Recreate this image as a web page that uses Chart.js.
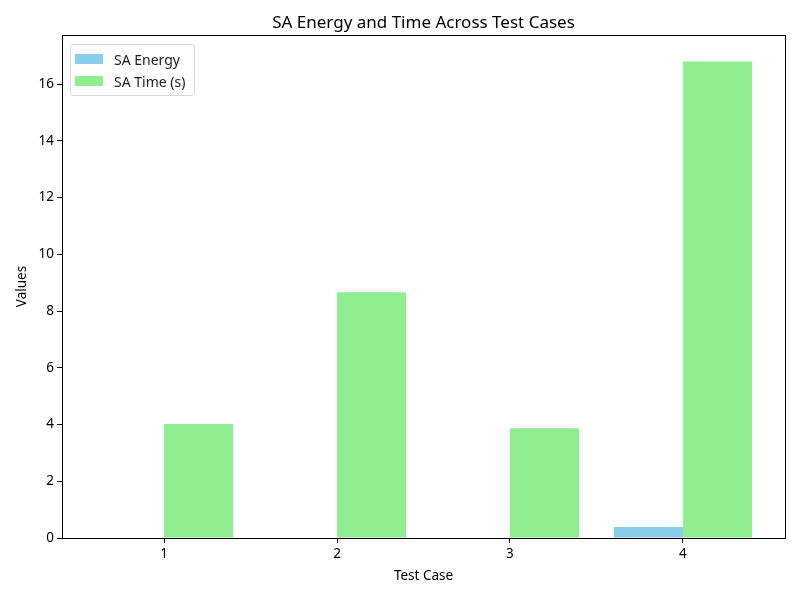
<!DOCTYPE html>
<html>
<head>
<meta charset="utf-8">
<script src="https://cdn.jsdelivr.net/npm/chart.js@4.4.1/dist/chart.umd.min.js"></script>
<style>
  body { margin: 0; background: #fff; }
  #wrap { position: relative; width: 800px; height: 600px; }
  #title {
    position: absolute; left: 62px; width: 723px; top: 10px; text-align: center;
    font-family: "Noto Sans", sans-serif; font-size: 17px; line-height: 24px; color: #000;
  }
  #legend {
    position: absolute; left: 70px; top: 44px;
    border: 1px solid #d9d9d9; border-radius: 3px; background: rgba(255,255,255,0.8);
    padding: 3px 9px 3px 4px; font-family: "Noto Sans", sans-serif; font-size: 14px; color: #222;
  }
  #legend div { display: flex; align-items: center; height: 22px; }
  #legend span.sw { display: inline-block; width: 28px; height: 10px; margin-right: 11px; }
</style>
</head>
<body>
<div id="wrap">
  <canvas id="chart" width="800" height="600"></canvas>
  <div id="title">SA Energy and Time Across Test Cases</div>
  <div id="legend"></div>
</div>
<script>
const testCases = [1, 2, 3, 4];
const saEnergy = [0, 0, 0, 0.39];
const saTime = [4.02, 8.66, 3.87, 16.8];
const yTicks = [0, 2, 4, 6, 8, 10, 12, 14, 16];

const FONT = '"Noto Sans", sans-serif';

const frame = {
  id: 'frame',
  afterDraw(chart) {
    const a = chart.chartArea, ctx = chart.ctx;
    ctx.save();
    ctx.strokeStyle = '#000';
    ctx.lineWidth = 1;
    ctx.strokeRect(a.left + 0.5, a.top + 0.5, a.right - a.left, a.bottom - a.top);
    ctx.restore();
  }
};

const ctx = document.getElementById('chart').getContext('2d');
const chart = new Chart(ctx, {
  type: 'bar',
  data: {
    datasets: [
      {
        label: 'SA Energy',
        data: testCases.map((x, i) => ({ x, y: saEnergy[i] })),
        backgroundColor: '#87CEEB',
        borderWidth: 0
      },
      {
        label: 'SA Time (s)',
        data: testCases.map((x, i) => ({ x, y: saTime[i] })),
        backgroundColor: '#90EE90',
        borderWidth: 0
      }
    ]
  },
  plugins: [frame],
  options: {
    responsive: false,
    animation: false,
    categoryPercentage: 0.8,
    barPercentage: 1.0,
    layout: { padding: { left: 0, right: 15, top: 35, bottom: 0 } },
    plugins: {
      legend: { display: false },
      tooltip: { enabled: false },
      title: { display: false }
    },
    scales: {
      x: {
        type: 'linear',
        offset: false,
        min: 0.41,
        max: 4.59,
        afterBuildTicks: s => { s.ticks = testCases.map(v => ({ value: v })); },
        afterFit: s => { s.height = 62; },
        grid: { display: true, offset: false, drawOnChartArea: false, drawTicks: true, tickLength: 5, color: '#000' },
        border: { display: false },
        ticks: { color: '#000', font: { family: FONT, size: 13.5 }, padding: 3 },
        title: {
          display: true, text: 'Test Case', color: '#000',
          font: { family: FONT, size: 13.5 }, padding: { top: 4, bottom: 16 }
        }
      },
      y: {
        min: 0,
        max: 17.73,
        afterBuildTicks: s => { s.ticks = yTicks.map(v => ({ value: v })); },
        afterFit: s => { s.width = 62; },
        grid: { display: true, drawOnChartArea: false, drawTicks: true, tickLength: 5, color: '#000' },
        border: { display: false },
        ticks: { color: '#000', font: { family: FONT, size: 13.5 }, padding: 3 },
        title: {
          display: true, text: 'Values', color: '#000',
          font: { family: FONT, size: 13.5 }, padding: { top: 14, bottom: 14 }
        }
      }
    }
  }
});

const legend = document.getElementById('legend');
chart.data.datasets.forEach(ds => {
  const row = document.createElement('div');
  const sw = document.createElement('span');
  sw.className = 'sw';
  sw.style.background = ds.backgroundColor;
  row.appendChild(sw);
  row.appendChild(document.createTextNode(ds.label));
  legend.appendChild(row);
});
</script>
</body>
</html>
